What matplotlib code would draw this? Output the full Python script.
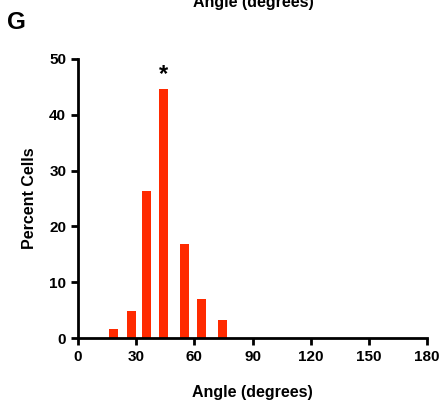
import matplotlib.pyplot as plt

plt.rcParams['font.family'] = ['Liberation Sans', 'DejaVu Sans']
plt.rcParams['font.weight'] = 'bold'

# bin centres (degrees) and percentage of cells
angles = [18.5, 27.8, 35.5, 44.3, 55.0, 63.5, 74.7]
percent = [1.7, 4.8, 26.3, 44.6, 16.8, 7.0, 3.3]
xticks = [0, 30, 60, 90, 120, 150, 180]
yticks = [0, 10, 20, 30, 40, 50]

fig = plt.figure(figsize=(4.44, 4.05), dpi=100)
ax = fig.add_axes([0.1757, 0.1654, 0.786, 0.689])

ax.bar(angles, percent, width=4.6, color='#ff2a00', edgecolor='none')

ax.set_xlim(0, 180)
ax.set_ylim(0, 50)
ax.set_xticks(xticks)
ax.set_yticks(yticks)
for s in ['top', 'right']:
    ax.spines[s].set_visible(False)
for s in ['left', 'bottom']:
    ax.spines[s].set_linewidth(2)
ax.tick_params(width=2, length=5, labelsize=11, direction='out')
for lab in ax.get_xticklabels() + ax.get_yticklabels():
    lab.set_fontweight('bold')

ax.set_xlabel('Angle (degrees)', fontsize=11.5, fontweight='bold', labelpad=15)
ax.set_ylabel('Percent Cells', fontsize=11.5, fontweight='bold', labelpad=9)

# significance mark over the peak bar
ax.text(angles[3], 46.0, '*', ha='center', va='baseline',
        fontsize=17, fontweight='bold')

# panel letter and cut-off title from the panel above
fig.text(0.016, 0.945, 'G', fontsize=17.5, fontweight='bold', va='center')
fig.text(0.57, 0.995, 'Angle (degrees)', fontsize=11.5, fontweight='bold',
         ha='center', va='center')

fig.savefig('out.png', dpi=100)
